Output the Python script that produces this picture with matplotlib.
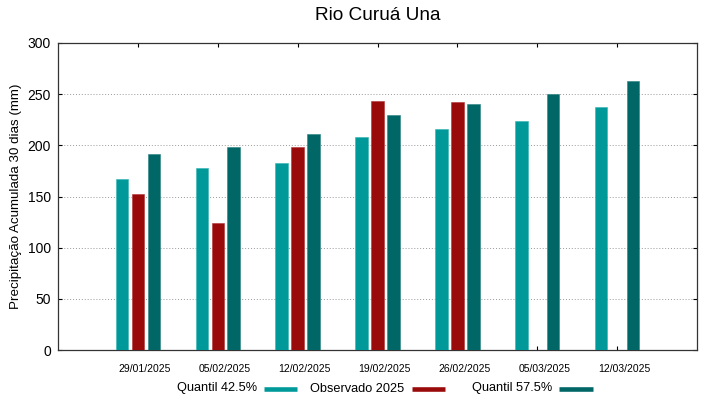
import numpy as np
import matplotlib
matplotlib.use("Agg")
import matplotlib.pyplot as plt
from matplotlib.lines import Line2D

plt.rcParams['font.family'] = ['Liberation Sans', 'DejaVu Sans']

# dados
datas = ["29/01/2025", "05/02/2025", "12/02/2025", "19/02/2025",
         "26/02/2025", "05/03/2025", "12/03/2025"]
quantil_425 = [167, 178, 183, 208.5, 215.5, 224, 237.5]
observado = [152, 124.5, 198.5, 243.5, 242, np.nan, np.nan]
quantil_575 = [191.5, 198.5, 211.5, 229.5, 240.5, 250, 263]
nomes = ["Quantil 42.5%", "Observado 2025", "Quantil 57.5%"]

cor_q1 = "#009999"
cor_obs = "#990a0a"
cor_q2 = "#006666"

W, H = 719, 399
fig = plt.figure(figsize=(W / 100, H / 100), dpi=100)
ax = fig.add_axes([58 / W, 49 / H, 639 / W, 307 / H])

x = np.arange(len(datas))
larg = 0.156
desl = 0.2
ax.bar(x - desl, quantil_425, larg, color=cor_q1, edgecolor="#33b3b3", linewidth=0.4, zorder=3)
ax.bar(x, observado, larg, color=cor_obs, edgecolor="#b33333", linewidth=0.4, zorder=3)
ax.bar(x + desl, quantil_575, larg, color=cor_q2, edgecolor="#2a8080", linewidth=0.4, zorder=3)

ax.set_xlim(-1, 7)
ax.set_ylim(0, 300)
ax.set_yticks(np.arange(0, 301, 50))
# ticks nas barras do meio, rotulos um pouco deslocados para a direita (como no gnuplot)
ax.set_xticks(x)
ax.set_xticklabels([])
ax.set_xticks(x + 7 / 80, minor=True)
ax.set_xticklabels(datas, minor=True, fontsize=7.5)
ax.tick_params(axis='x', which='minor', length=0, pad=10)
ax.tick_params(axis='y', labelsize=10, direction='in', length=3, right=True, pad=5)
ax.tick_params(axis='x', which='major', direction='in', length=3, top=True)
ax.grid(axis='y', linestyle=(0, (1, 2)), color="#999999", linewidth=0.7, zorder=0)
for s in ax.spines.values():
    s.set_color("#333333")
    s.set_linewidth(0.9)

ax.set_ylabel("Precipitação Acumulada 30 dias (mm)", fontsize=9.6, labelpad=4)
fig.text(377.5 / W, 1 - 16 / H, "Rio Curuá Una", ha='center', va='center', fontsize=13.7)

# legenda no estilo gnuplot: texto e depois a amostra
ly = 1 - 388.5 / H
fim_texto = [257, 404.5, 552.5]
amostras = [(264, 297), (412, 445), (559, 593)]
for nome, xt, (a, b), cor in zip(nomes, fim_texto, amostras, [cor_q1, cor_obs, cor_q2]):
    fig.text(xt / W, ly, nome, ha='right', va='center', fontsize=9.2)
    fig.add_artist(Line2D([a / W, b / W], [ly, ly], color=cor, linewidth=3.3,
                          solid_capstyle='butt', transform=fig.transFigure))

fig.savefig("out.png", dpi=100)
